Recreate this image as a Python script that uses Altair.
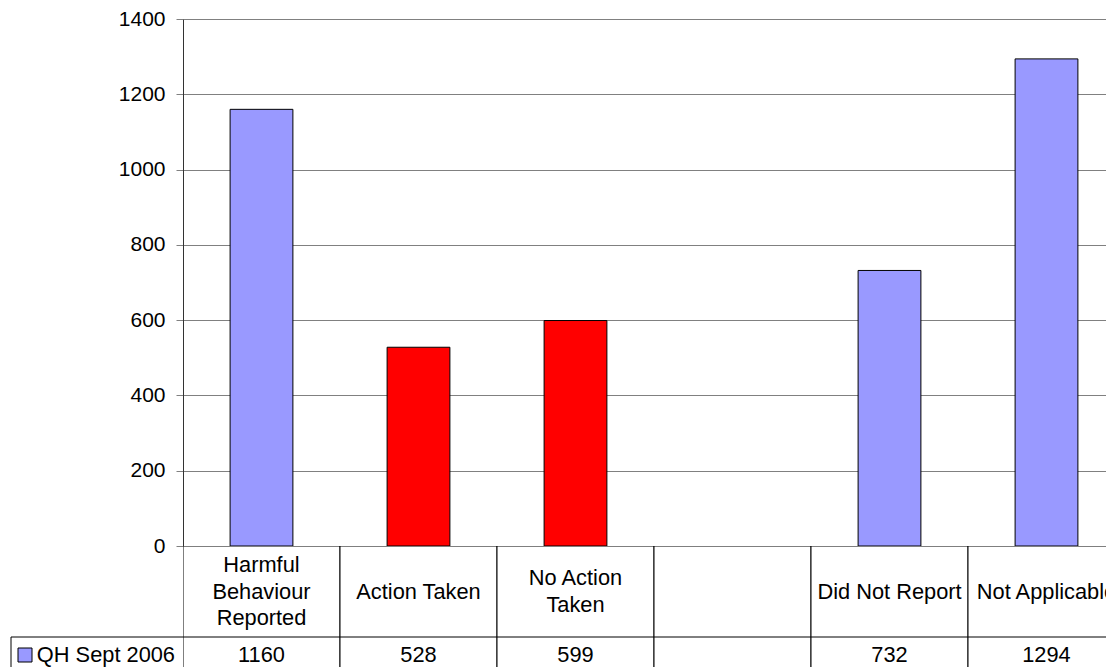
import altair as alt
import pandas as pd

FONT = "Liberation Sans"

CATEGORIES = ["Harmful Behaviour Reported", "Action Taken", "No Action Taken",
              "(blank)", "Did Not Report", "Not Applicable"]
LABELS = ["Harmful\nBehaviour\nReported", "Action Taken", "No Action\nTaken",
          "", "Did Not Report", "Not Applicable"]
VALUES = [1160, 528, 599, None, 732, 1294]
SERIES = "QH Sept 2006"
RED_CATEGORIES = ["Action Taken", "No Action Taken"]
Y_TICKS = [0, 200, 400, 600, 800, 1000, 1200, 1400]

df = pd.DataFrame({
    "category": CATEGORIES,
    "label": LABELS,
    "nlines": [lab.count("\n") + 1 for lab in LABELS],
    "value": VALUES,
    "value_text": ["" if v is None else str(v) for v in VALUES],
})
legend_df = pd.DataFrame({"series": [SERIES]})

BLUE = "#9999FF"
RED = "#FF0000"
STEP = 157
FULL = STEP * len(CATEGORIES)   # full table width (cut off at the right edge)
W = 923                         # visible part
LH = 26.5
FS = 21.8

bars = alt.Chart(df).mark_bar(stroke="black", strokeWidth=1, clip=True).encode(
    x=alt.X("category:N", sort=CATEGORIES,
            scale=alt.Scale(domain=CATEGORIES, range=[0, FULL],
                            paddingInner=0.6, paddingOuter=0.3),
            axis=None),
    y=alt.Y("value:Q", scale=alt.Scale(domain=[0, 1400], nice=False),
            axis=alt.Axis(values=Y_TICKS, format="d", title=None, grid=True,
                          gridColor="#808080", gridWidth=1, domainColor="#333333",
                          tickColor="#808080", tickSize=7, labelPadding=11,
                          labelFontSize=21, labelFont=FONT, labelColor="black")),
    fill=alt.condition(alt.FieldOneOfPredicate(field="category", oneOf=RED_CATEGORIES),
                       alt.value(RED), alt.value(BLUE)),
).properties(width=W, height=527)

xcell = alt.X("category:N", sort=CATEGORIES,
              scale=alt.Scale(domain=CATEGORIES, range=[0, FULL],
                              paddingInner=0, paddingOuter=0),
              axis=None)

label_cells = alt.Chart(df).mark_rect(fill="white", stroke="black", strokeWidth=1,
                                      clip=True).encode(x=xcell)
label_texts = []
for k in (1, 2, 3):
    label_texts.append(
        alt.Chart(df).transform_filter(alt.datum.nlines == k).mark_text(
            font=FONT, fontSize=FS, lineBreak="\n", lineHeight=LH,
            align="center", baseline="middle", color="black",
            dy=-(k - 1) * LH / 2, clip=True).encode(x=xcell, text="label:N"))
label_row = alt.layer(label_cells, *label_texts).properties(width=W, height=91)

value_cells = alt.Chart(df).mark_rect(fill="white", stroke="black", strokeWidth=1,
                                      clip=True).encode(x=xcell)
value_text = alt.Chart(df).mark_text(font=FONT, fontSize=FS, align="center",
                                     baseline="middle", color="black", clip=True).encode(
    x=xcell, text="value_text:N")
leg_left = alt.Chart(legend_df).mark_rule(color="black", strokeWidth=1).encode(
    x=alt.value(-172), y=alt.value(0), y2=alt.value(36))
leg_top = alt.Chart(legend_df).mark_rule(color="black", strokeWidth=1).encode(
    x=alt.value(-172), x2=alt.value(0), y=alt.value(0))
leg_swatch = alt.Chart(legend_df).mark_square(size=196, fill=BLUE, stroke="black",
                                              strokeWidth=1, opacity=1).encode(
    x=alt.value(-158), y=alt.value(18))
leg_text = alt.Chart(legend_df).mark_text(font=FONT, fontSize=FS, align="right",
                                          baseline="middle", color="black").encode(
    x=alt.value(-8), y=alt.value(18), text="series:N")
value_row = alt.layer(value_cells, value_text, leg_left, leg_top, leg_swatch, leg_text).properties(
    width=W, height=36)

chart = alt.vconcat(bars, label_row, value_row, spacing=0, bounds="flush").properties(
    padding={"left": 2, "top": 0, "right": 0, "bottom": 0},
    background="white",
).configure_view(strokeWidth=0)

chart.save("out.html", embed_options={"renderer": "svg", "actions": False})
